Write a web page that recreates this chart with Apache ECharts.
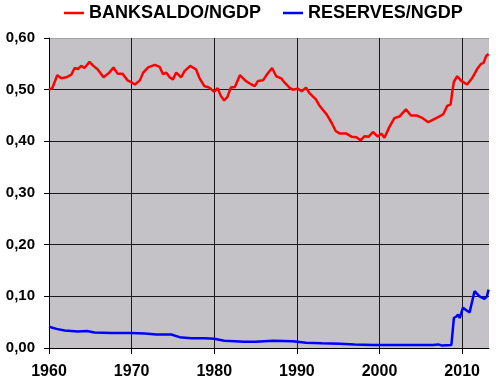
<!DOCTYPE html>
<html>
<head>
<meta charset="utf-8">
<script src="https://cdn.jsdelivr.net/npm/echarts@6/dist/echarts.min.js"></script>
<style>html,body{margin:0;padding:0;background:#fff;}#c{width:498px;height:388px;}</style>
</head>
<body>
<div id="c"></div>
<script>
const bankYears = [1960.0,1960.4,1961.0,1961.5,1962.1,1962.7,1963.1,1963.5,1963.9,1964.3,1964.9,1965.3,1965.9,1966.6,1967.3,1967.8,1968.3,1968.9,1969.5,1970.0,1970.4,1971.0,1971.4,1972.0,1972.8,1973.4,1973.8,1974.2,1974.6,1975.0,1975.4,1976.0,1976.4,1977.1,1977.8,1978.2,1978.8,1979.4,1980.0,1980.4,1980.8,1981.2,1981.6,1982.0,1982.5,1983.1,1983.8,1984.5,1984.9,1985.3,1985.9,1986.4,1987.0,1987.5,1988.1,1988.5,1989.1,1989.5,1990.1,1990.6,1991.1,1991.5,1992.3,1992.7,1993.6,1994.2,1994.7,1995.2,1996.0,1996.6,1997.2,1997.7,1998.2,1998.7,1999.2,1999.8,2000.2,2000.6,2001.2,2001.8,2002.4,2003.2,2003.8,2004.5,2005.1,2005.9,2006.5,2007.1,2007.7,2008.2,2008.6,2008.8,2009.0,2009.4,2009.9,2010.6,2011.2,2011.9,2012.3,2012.6,2012.9,2013.2];
const bankValues = [0.500,0.503,0.528,0.522,0.524,0.529,0.542,0.540,0.546,0.542,0.554,0.547,0.539,0.524,0.533,0.543,0.531,0.531,0.518,0.514,0.510,0.518,0.533,0.543,0.548,0.544,0.530,0.533,0.524,0.520,0.533,0.524,0.536,0.546,0.539,0.523,0.507,0.504,0.496,0.503,0.488,0.479,0.486,0.504,0.505,0.528,0.517,0.510,0.507,0.517,0.518,0.530,0.542,0.526,0.522,0.514,0.504,0.500,0.502,0.497,0.504,0.494,0.481,0.470,0.452,0.436,0.420,0.415,0.415,0.409,0.408,0.402,0.410,0.409,0.418,0.409,0.415,0.407,0.428,0.445,0.448,0.462,0.450,0.450,0.446,0.437,0.442,0.447,0.452,0.469,0.471,0.495,0.515,0.526,0.517,0.510,0.522,0.542,0.550,0.552,0.565,0.569];
const resYears = [1960.0,1960.9,1961.9,1963.5,1964.6,1965.5,1967.5,1969.9,1971.6,1973.0,1974.8,1975.8,1977.2,1978.8,1980.0,1981.2,1982.5,1983.6,1985.0,1987.1,1989.5,1991.1,1993.0,1995.2,1997.0,1999.2,2002.0,2006.5,2007.1,2007.5,2008.7,2009.0,2009.3,2009.5,2009.7,2010.1,2010.6,2010.9,2011.5,2012.1,2012.7,2013.0,2013.2];
const resValues = [0.041,0.037,0.034,0.032,0.033,0.030,0.029,0.029,0.028,0.026,0.026,0.021,0.019,0.019,0.018,0.014,0.013,0.012,0.012,0.014,0.013,0.010,0.009,0.008,0.007,0.006,0.006,0.006,0.007,0.005,0.006,0.058,0.061,0.065,0.058,0.078,0.072,0.069,0.110,0.100,0.095,0.100,0.113];
const xTicks = [1960,1970,1980,1990,2000,2010];
const yTicks = [0,0.1,0.2,0.3,0.4,0.5,0.6];
const seriesNames = ['BANKSALDO/NGDP','RESERVES/NGDP'];

const FONT = "'Liberation Sans', Arial, sans-serif";
const chart = echarts.init(document.getElementById('c'), null, {renderer:'canvas'});
chart.setOption({
  animation: false,
  backgroundColor: '#ffffff',
  legend: {
    left: 64, top: 4, padding: 0,
    icon: 'rect',
    itemWidth: 20, itemHeight: 2.5, itemGap: 22,
    textStyle: {fontFamily: FONT, fontWeight: 'bold', fontSize: 18, color: '#000'},
    data: seriesNames
  },
  grid: {left: 49, right: 9, top: 38, bottom: 40, show: true, backgroundColor: '#C4C2C6', borderWidth: 0},
  xAxis: {
    type: 'value', min: 1960, max: 2013.25, interval: 10,
    axisLine: {show: true, onZero: false, lineStyle: {color: '#000', width: 1}},
    axisTick: {show: true, length: 6, customValues: xTicks, lineStyle: {color: '#000'}},
    axisLabel: {customValues: xTicks, margin: 16, fontFamily: FONT, fontWeight: 'bold', fontSize: 16, color: '#000',
      formatter: v => (v % 10 === 0 ? String(v) : '')},
    splitLine: {show: true, lineStyle: {color: ['#1a1a1a','#1a1a1a','#1a1a1a','#1a1a1a','#1a1a1a','#1a1a1a','#a0a0a0'], width: 1}}
  },
  yAxis: {
    type: 'value', min: 0, max: 0.6, interval: 0.1,
    axisLine: {show: true, lineStyle: {color: '#000', width: 1}},
    axisTick: {show: true, length: 5, lineStyle: {color: '#000'}},
    axisLabel: {margin: 14, fontFamily: FONT, fontWeight: 'bold', fontSize: 15, color: '#000',
      formatter: v => v.toFixed(2).replace('.', ',')},
    splitLine: {show: true, lineStyle: {color: ['#1a1a1a','#1a1a1a','#1a1a1a','#1a1a1a','#1a1a1a','#1a1a1a','#a0a0a0'], width: 1}}
  },
  series: [
    {name: seriesNames[0], type: 'line', symbol: 'none', color: '#ff0000',
     lineStyle: {color: '#ff0000', width: 2.5},
     data: bankYears.map((y, i) => [y, bankValues[i]])},
    {name: seriesNames[1], type: 'line', symbol: 'none', color: '#0000ff',
     lineStyle: {color: '#0000ff', width: 2.5},
     data: resYears.map((y, i) => [y, resValues[i]])}
  ]
});
</script>
</body>
</html>
